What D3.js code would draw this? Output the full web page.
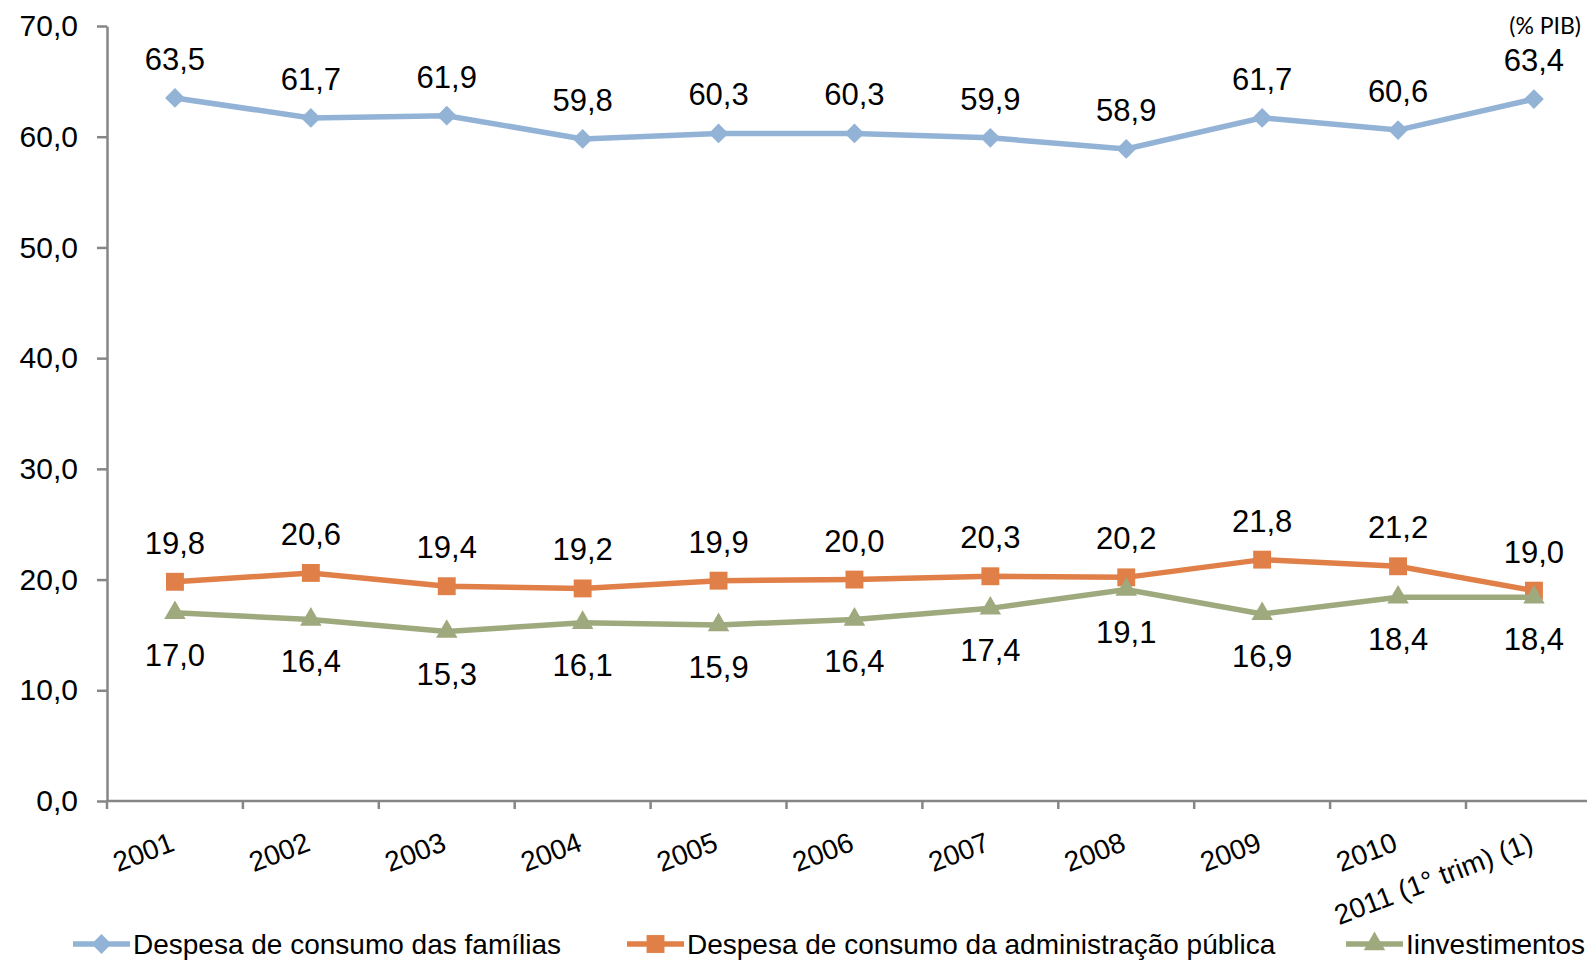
<!DOCTYPE html>
<meta charset="utf-8">
<style>
body { margin: 0; background: #fff; }
text { font-family: "Liberation Sans", Arial, sans-serif; fill: #000; }
.axis path, .axis line { fill: none; stroke: #868686; stroke-width: 2.5px; }
</style>
<svg width="1587" height="971"></svg>
<script src="https://d3js.org/d3.v7.min.js"></script>
<script>
var categories = ["2001", "2002", "2003", "2004", "2005", "2006", "2007", "2008", "2009", "2010", "2011 (1° trim) (1)"];
var familias = [63.5, 61.7, 61.9, 59.8, 60.3, 60.3, 59.9, 58.9, 61.7, 60.6, 63.4];
var administracao = [19.8, 20.6, 19.4, 19.2, 19.9, 20.0, 20.3, 20.2, 21.8, 21.2, 19.0];
var investimentos = [17.0, 16.4, 15.3, 16.1, 15.9, 16.4, 17.4, 19.1, 16.9, 18.4, 18.4];
var yTicks = [0, 10, 20, 30, 40, 50, 60, 70];

var series = [
  {name: "Despesa de consumo das famílias", values: familias, color: "#93b3d6", symbol: d3.symbolDiamond2, size: 250, labelDy: -28, legendX: 73},
  {name: "Despesa de consumo da administração pública", values: administracao, color: "#e07f47", symbol: d3.symbolSquare, size: 320, labelDy: -28, legendX: 627},
  {name: "Iinvestimentos", values: investimentos, color: "#9fa97e", symbol: d3.symbolTriangle, size: 200, labelDy: 53, legendX: 1346}
];

var svg = d3.select("svg");
var plotLeft = 107, plotBottom = 801, plotTop = 26, step = 135.9;

var x = d3.scaleBand().domain(categories).range([plotLeft, plotLeft + step * categories.length]).padding(0);
var y = d3.scaleLinear().domain([0, 70]).range([plotBottom, plotTop]);
var fmt = function(v) { return v.toFixed(1).replace(".", ","); };

// y axis
var gy = svg.append("g").attr("class", "axis")
    .attr("transform", "translate(" + plotLeft + ",0)")
    .call(d3.axisLeft(y).tickValues(yTicks).tickSize(10).tickSizeOuter(0).tickFormat(fmt));
gy.selectAll("text").attr("x", -29).style("font-size", "30px");

// x axis
var gx = svg.append("g").attr("class", "axis")
    .attr("transform", "translate(0," + plotBottom + ")");
gx.append("line").attr("x1", plotLeft).attr("x2", 1587).attr("y1", 0).attr("y2", 0);
gx.selectAll(".tk").data(categories).enter().append("line")
    .attr("x1", function(d) { return x(d); }).attr("x2", function(d) { return x(d); })
    .attr("y1", 0).attr("y2", 8);
gx.selectAll(".lbl").data(categories).enter().append("text")
    .attr("text-anchor", "end")
    .style("font-size", "28px")
    .attr("transform", function(d) {
      return "translate(" + (x(d) + x.bandwidth() / 2 + 1) + ",49) rotate(-21)";
    })
    .text(function(d) { return d; });

// series
series.forEach(function(s) {
  var pts = s.values.map(function(v, i) { return [x(categories[i]) + x.bandwidth() / 2, y(v), v]; });
  svg.append("path")
      .attr("d", d3.line()(pts))
      .attr("fill", "none").attr("stroke", s.color).attr("stroke-width", 5.5);
  svg.selectAll(null).data(pts).enter().append("path")
      .attr("d", d3.symbol().type(s.symbol).size(s.size))
      .attr("transform", function(p) { return "translate(" + p[0] + "," + p[1] + ")"; })
      .attr("fill", s.color);
  svg.selectAll(null).data(pts).enter().append("text")
      .attr("x", function(p) { return p[0]; })
      .attr("y", function(p) { return p[1] + s.labelDy; })
      .attr("text-anchor", "middle")
      .style("font-size", "31px")
      .text(function(p) { return fmt(p[2]); });

  // legend
  var lg = svg.append("g").attr("transform", "translate(" + s.legendX + ",944)");
  lg.append("line").attr("x1", 0).attr("x2", 57).attr("stroke", s.color).attr("stroke-width", 5.5);
  lg.append("path").attr("d", d3.symbol().type(s.symbol).size(s.size)).attr("transform", "translate(28.5,0)").attr("fill", s.color);
  lg.append("text").attr("x", 60).attr("y", 10).style("font-size", "28px").text(s.name);
});

svg.append("text")
    .attr("x", 1581).attr("y", 34)
    .attr("text-anchor", "end")
    .style("font-family", "Lato, 'Open Sans', sans-serif")
    .style("font-size", "23px")
    .text("(% PIB)");
</script>
